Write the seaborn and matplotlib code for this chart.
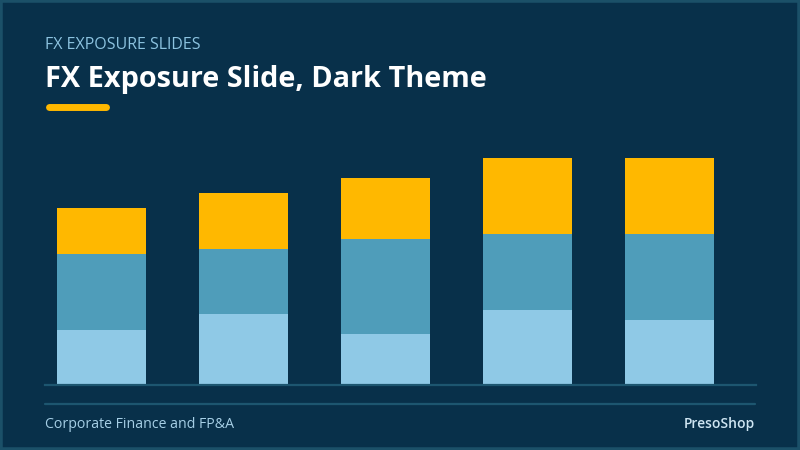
import matplotlib
matplotlib.use('Agg')
import matplotlib.pyplot as plt
import numpy as np
import pandas as pd
import seaborn as sns

# data (arbitrary units)
periods = ['P1', 'P2', 'P3', 'P4', 'P5']
low = [22, 28.4, 20.4, 30, 26]
mid = [30.4, 26, 38, 30.4, 34.4]
top = [18.4, 22.4, 24.4, 30.4, 30.4]

bg = '#08304a'
c_low = '#8fc9e6'
c_mid = '#4f9dba'
c_top = '#ffb800'
line_col = '#1d5670'

df = pd.DataFrame({'period': periods, 'low': low, 'mid': mid, 'top': top})
df['lm'] = df['low'] + df['mid']
df['total'] = df['lm'] + df['top']

sns.set_style('white')
plt.rcParams['font.family'] = ['Open Sans', 'DejaVu Sans']

fig = plt.figure(figsize=(8, 4.5), dpi=100)
fig.patch.set_facecolor(bg)

ax = fig.add_axes([45 / 800, (450 - 385) / 450, 711 / 800, 240 / 450])
ax.set_facecolor(bg)

# stacked by layering cumulative totals
sns.barplot(data=df, x='period', y='total', color=c_top, width=0.63,
            saturation=1, ax=ax, linewidth=0)
sns.barplot(data=df, x='period', y='lm', color=c_mid, width=0.63,
            saturation=1, ax=ax, linewidth=0)
sns.barplot(data=df, x='period', y='low', color=c_low, width=0.63,
            saturation=1, ax=ax, linewidth=0)

ax.set_xlim(-0.398, 4.609)
ax.set_ylim(0, 96)
ax.set_xlabel('')
ax.set_ylabel('')
ax.set_xticks([])
ax.set_yticks([])
for s in ['top', 'right', 'left']:
    ax.spines[s].set_visible(False)
ax.spines['bottom'].set_color(line_col)
ax.spines['bottom'].set_linewidth(1.6)

# header
fig.text(45 / 800, 1 - 45 / 450, 'FX EXPOSURE SLIDES', color='#8cc3e0',
         fontsize=11.5, va='center', ha='left')
fig.text(45 / 800, 1 - 80 / 450, 'FX Exposure Slide, Dark Theme', color='white',
         fontsize=20.8, fontweight='bold', va='center', ha='left')
fig.add_artist(plt.Line2D([48.5 / 800, 105.5 / 800], [1 - 106.5 / 450, 1 - 106.5 / 450],
                          color=c_top, linewidth=5, solid_capstyle='round'))

# footer
fig.add_artist(plt.Line2D([45 / 800, 755 / 800], [1 - 404 / 450, 1 - 404 / 450],
                          color=line_col, linewidth=1.6))
fig.text(45 / 800, 1 - 424 / 450, 'Corporate Finance and FP&A', color='#a6cfe6',
         fontsize=10.2, va='center', ha='left')
fig.text(755 / 800, 1 - 424 / 450, 'PresoShop', color='#cfe6f3',
         fontsize=10, fontweight='semibold', va='center', ha='right')

# border
fig.add_artist(plt.Rectangle((0, 0), 1, 1, transform=fig.transFigure, fill=False,
                             edgecolor='#1b5068', linewidth=4))

fig.savefig('out.png', dpi=100, facecolor=bg)
